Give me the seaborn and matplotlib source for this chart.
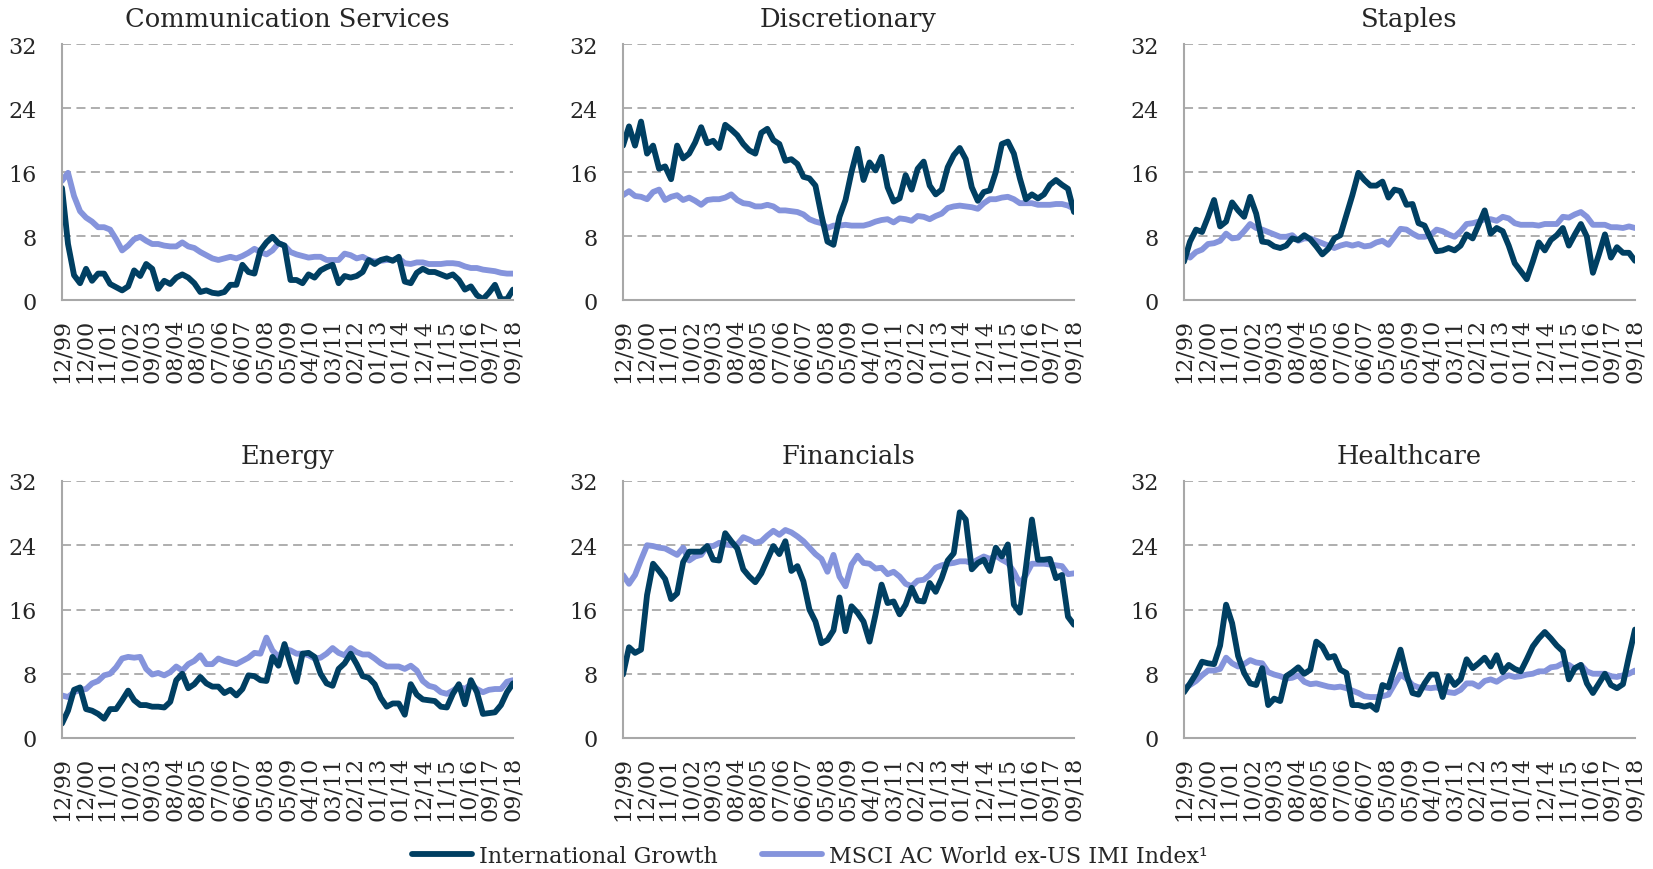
import numpy as np
import pandas as pd
import seaborn as sns
import matplotlib.pyplot as plt
from matplotlib.lines import Line2D

# quarterly readings, 12/99 .. 09/18 (76 points each)
tick_labels = ['12/99', '12/00', '11/01', '10/02', '09/03', '08/04', '08/05', '07/06',
               '06/07', '05/08', '05/09', '04/10', '03/11', '02/12', '01/13', '01/14',
               '12/14', '11/15', '10/16', '09/17', '09/18']
titles = ['Communication Services', 'Discretionary', 'Staples',
          'Energy', 'Financials', 'Healthcare']
ig_name = 'International Growth'
msci_name = 'MSCI AC World ex-US IMI Index\u00b9'

comm_ig = [14.0, 7.0, 3.1, 2.1, 3.9, 2.4, 3.3, 3.3, 2.0, 1.6,
           1.2, 1.7, 3.7, 3.0, 4.5, 3.9, 1.4, 2.4, 2.0, 2.8,
           3.2, 2.8, 2.1, 1.0, 1.2, 0.9, 0.8, 1.0, 1.9, 1.9,
           4.4, 3.5, 3.3, 6.2, 7.2, 7.9, 7.1, 6.8, 2.5, 2.5,
           2.1, 3.2, 2.8, 3.7, 4.1, 4.4, 2.1, 3.0, 2.8, 3.0,
           3.5, 5.0, 4.5, 5.0, 5.2, 4.9, 5.4, 2.3, 2.1, 3.4,
           3.9, 3.5, 3.5, 3.2, 2.9, 3.2, 2.5, 1.3, 1.7, 0.6,
           0.1, 0.9, 1.9, 0.1, 0.1, 1.3]
comm_msci = [14.9, 15.9, 13.0, 11.1, 10.3, 9.8, 9.1, 9.1, 8.8, 7.6,
             6.2, 6.8, 7.6, 7.9, 7.4, 7.0, 7.0, 6.8, 6.7, 6.7,
             7.2, 6.7, 6.5, 6.0, 5.6, 5.2, 5.0, 5.2, 5.4, 5.2,
             5.5, 5.9, 6.4, 6.0, 5.7, 6.2, 7.1, 6.8, 6.0, 5.7,
             5.5, 5.3, 5.4, 5.4, 5.0, 5.0, 5.0, 5.8, 5.6, 5.2,
             5.4, 5.0, 4.8, 4.9, 5.0, 5.0, 5.2, 4.6, 4.5, 4.7,
             4.7, 4.5, 4.5, 4.5, 4.6, 4.6, 4.5, 4.2, 4.0, 4.0,
             3.8, 3.7, 3.6, 3.4, 3.3, 3.3]
disc_ig = [19.3, 21.7, 19.3, 22.3, 18.3, 19.3, 16.4, 16.7, 15.1, 19.3,
           17.7, 18.3, 19.7, 21.6, 19.6, 19.9, 19.0, 21.9, 21.3, 20.6,
           19.5, 18.7, 18.3, 20.9, 21.4, 20.0, 19.5, 17.4, 17.6, 17.0,
           15.4, 15.2, 14.3, 10.6, 7.3, 6.9, 10.4, 12.5, 16.0, 18.9,
           15.0, 17.2, 16.2, 17.9, 14.1, 12.3, 12.7, 15.6, 13.8, 16.4,
           17.3, 14.3, 13.2, 13.8, 16.6, 18.1, 19.0, 17.6, 14.1, 12.4,
           13.5, 13.7, 16.0, 19.5, 19.8, 18.3, 15.2, 12.6, 13.2, 12.7,
           13.2, 14.4, 15.0, 14.4, 13.9, 11.0]
disc_msci = [13.1, 13.6, 13.0, 12.9, 12.6, 13.5, 13.8, 12.5, 12.9, 13.1,
             12.5, 12.8, 12.4, 11.9, 12.5, 12.6, 12.6, 12.8, 13.2, 12.5,
             12.1, 12.0, 11.7, 11.7, 11.9, 11.7, 11.2, 11.2, 11.1, 11.0,
             10.7, 10.1, 9.8, 9.6, 9.0, 9.3, 9.3, 9.4, 9.3, 9.3,
             9.3, 9.5, 9.8, 10.0, 10.1, 9.7, 10.2, 10.1, 9.9, 10.5,
             10.4, 10.1, 10.5, 10.8, 11.5, 11.7, 11.8, 11.7, 11.6, 11.4,
             12.1, 12.6, 12.6, 12.8, 12.9, 12.6, 12.1, 12.1, 12.1, 11.9,
             11.9, 11.9, 12.0, 12.0, 11.8, 11.4]
stap_ig = [4.8, 7.3, 8.8, 8.5, 10.4, 12.5, 9.2, 9.8, 12.2, 11.2,
           10.4, 12.9, 10.8, 7.3, 7.2, 6.7, 6.5, 6.8, 7.7, 7.5,
           8.1, 7.6, 6.7, 5.7, 6.4, 7.7, 8.1, 10.6, 13.1, 15.9,
           15.0, 14.3, 14.3, 14.8, 12.8, 13.8, 13.6, 11.9, 12.0, 9.6,
           9.3, 7.7, 6.1, 6.2, 6.5, 6.2, 6.8, 8.2, 7.7, 9.4,
           11.2, 8.3, 9.0, 8.6, 6.8, 4.6, 3.6, 2.6, 4.8, 7.2,
           6.2, 7.5, 8.1, 9.0, 6.8, 8.2, 9.5, 7.9, 3.4, 5.7,
           8.2, 5.3, 6.6, 5.9, 5.9, 4.9]
stap_msci = [6.0, 5.3, 6.0, 6.3, 7.0, 7.1, 7.4, 8.3, 7.7, 7.8,
             8.6, 9.5, 9.0, 8.8, 8.5, 8.2, 7.9, 7.9, 8.1, 7.4,
             7.7, 7.7, 7.4, 7.1, 6.8, 6.5, 6.8, 7.0, 6.8, 7.0,
             6.7, 6.8, 7.2, 7.4, 6.9, 7.9, 8.9, 8.8, 8.3, 7.9,
             7.9, 8.1, 8.8, 8.6, 8.2, 7.9, 8.6, 9.5, 9.6, 9.8,
             10.1, 10.1, 9.9, 10.4, 10.2, 9.6, 9.4, 9.4, 9.4, 9.3,
             9.5, 9.5, 9.5, 10.4, 10.3, 10.7, 11.0, 10.4, 9.4, 9.4,
             9.4, 9.1, 9.1, 9.0, 9.2, 9.0]
ener_ig = [1.8, 3.4, 6.0, 6.3, 3.6, 3.4, 3.0, 2.4, 3.6, 3.6,
           4.7, 5.9, 4.7, 4.1, 4.1, 3.9, 3.9, 3.8, 4.5, 7.2,
           8.0, 6.2, 6.7, 7.6, 6.8, 6.4, 6.4, 5.6, 6.0, 5.3,
           6.1, 7.8, 7.7, 7.2, 7.1, 10.1, 9.0, 11.7, 9.2, 7.0,
           10.5, 10.6, 10.1, 8.0, 6.8, 6.5, 8.6, 9.3, 10.5, 9.2,
           7.7, 7.5, 6.7, 5.0, 3.9, 4.3, 4.3, 2.9, 6.7, 5.4,
           4.8, 4.7, 4.6, 3.9, 3.8, 5.5, 6.7, 4.2, 7.2, 5.7,
           3.0, 3.1, 3.2, 4.1, 5.7, 6.8]
ener_msci = [5.3, 5.1, 5.7, 6.0, 6.1, 6.8, 7.1, 7.8, 8.0, 8.8,
             9.9, 10.1, 10.0, 10.1, 8.6, 7.9, 8.1, 7.8, 8.2, 8.9,
             8.4, 9.2, 9.6, 10.3, 9.2, 9.2, 9.9, 9.6, 9.4, 9.2,
             9.6, 10.0, 10.6, 10.5, 12.5, 10.9, 10.1, 11.1, 10.9, 10.5,
             10.5, 10.3, 9.9, 10.0, 10.5, 11.2, 10.6, 10.3, 11.2, 10.7,
             10.4, 10.4, 9.9, 9.3, 8.9, 8.9, 8.9, 8.6, 9.0, 8.4,
             7.1, 6.5, 6.3, 5.7, 5.5, 5.9, 6.4, 6.1, 6.7, 6.1,
             5.7, 6.0, 6.1, 6.1, 7.0, 7.2]
fin_ig = [7.9, 11.3, 10.6, 11.0, 17.8, 21.7, 20.8, 19.8, 17.3, 18.0,
          21.9, 23.2, 23.2, 23.2, 23.9, 22.2, 22.1, 25.5, 24.5, 23.6,
          21.0, 20.1, 19.4, 20.5, 22.2, 23.9, 22.9, 24.5, 20.8, 21.4,
          19.5, 16.0, 14.5, 11.8, 12.2, 13.4, 17.5, 13.3, 16.4, 15.6,
          14.5, 12.0, 15.4, 19.1, 16.8, 17.0, 15.4, 16.6, 18.7, 17.1,
          17.0, 19.3, 18.2, 19.9, 22.1, 23.0, 28.1, 27.2, 21.0, 21.8,
          22.2, 20.8, 23.7, 22.6, 24.1, 16.6, 15.6, 21.2, 27.2, 22.2,
          22.2, 22.3, 19.9, 20.3, 15.1, 14.1]
fin_msci = [20.3, 19.2, 20.3, 22.2, 24.0, 23.9, 23.7, 23.6, 23.2, 22.8,
            23.7, 22.1, 22.6, 22.8, 23.9, 23.9, 24.3, 24.1, 24.0, 24.1,
            25.0, 24.7, 24.3, 24.5, 25.2, 25.8, 25.3, 25.9, 25.6, 25.1,
            24.5, 23.7, 22.9, 22.3, 20.7, 22.8, 20.1, 18.9, 21.6, 22.7,
            21.8, 21.7, 21.1, 21.2, 20.4, 20.7, 20.1, 19.2, 18.9, 19.6,
            19.7, 20.3, 21.2, 21.5, 21.7, 21.8, 22.0, 22.0, 21.8, 22.2,
            22.6, 22.3, 22.7, 22.2, 21.8, 20.7, 19.2, 20.3, 21.7, 21.7,
            21.7, 21.6, 21.5, 21.4, 20.4, 20.5]
hc_ig = [5.7, 6.8, 8.0, 9.5, 9.3, 9.2, 11.5, 16.6, 14.3, 10.2,
         8.1, 6.8, 6.6, 8.7, 4.1, 4.9, 4.6, 7.7, 8.2, 8.8,
         8.0, 8.5, 12.0, 11.4, 10.0, 10.2, 8.5, 8.1, 4.1, 4.1,
         3.9, 4.1, 3.5, 6.6, 6.3, 8.7, 11.0, 7.9, 5.6, 5.4,
         6.8, 7.9, 7.9, 5.1, 7.7, 6.6, 7.3, 9.8, 8.7, 9.3,
         10.0, 8.9, 10.3, 8.2, 9.1, 8.6, 8.3, 9.8, 11.4, 12.4,
         13.2, 12.4, 11.5, 10.8, 7.3, 8.7, 9.1, 6.8, 5.6, 6.8,
         8.0, 6.6, 6.2, 6.7, 10.2, 13.5]
hc_msci = [6.2, 6.6, 7.1, 7.8, 8.4, 8.4, 8.6, 10.0, 9.3, 8.9,
           9.2, 9.7, 9.4, 9.3, 8.2, 7.9, 7.7, 7.4, 7.5, 7.8,
           7.0, 6.7, 6.8, 6.6, 6.4, 6.3, 6.4, 6.2, 5.9, 5.6,
           5.2, 5.1, 5.1, 5.2, 5.4, 6.7, 7.9, 7.4, 6.6, 6.3,
           6.3, 6.2, 6.3, 6.0, 5.7, 5.6, 6.0, 6.8, 6.8, 6.4,
           7.1, 7.3, 7.0, 7.5, 7.8, 7.6, 7.7, 7.9, 8.0, 8.3,
           8.3, 8.8, 8.9, 9.3, 9.1, 8.6, 9.1, 8.3, 8.0, 8.0,
           8.0, 7.7, 7.6, 7.8, 8.0, 8.4]

panels = [(comm_ig, comm_msci), (disc_ig, disc_msci), (stap_ig, stap_msci),
          (ener_ig, ener_msci), (fin_ig, fin_msci), (hc_ig, hc_msci)]

sns.set_style("white")
plt.rcParams['font.family'] = ['DejaVu Serif']

dark = '#003f62'
light = '#8594dc'
gray = '#a8a8a8'

W, H = 1653, 870
fig = plt.figure(figsize=(W / 100, H / 100), dpi=100)
lefts = [62, 623, 1184]
rows = [(45, 301), (482, 739)]

for k, (title, (ig, msci)) in enumerate(zip(titles, panels)):
    r, c = divmod(k, 3)
    top, bot = rows[r]
    ax = fig.add_axes([lefts[c] / W, 1 - bot / H, 451 / W, (bot - top) / H])
    df = pd.DataFrame({'q': np.arange(len(ig)), ig_name: ig, msci_name: msci})
    long = df.melt(id_vars='q', var_name='series', value_name='pe')
    sns.lineplot(data=long, x='q', y='pe', hue='series',
                 hue_order=[msci_name, ig_name],
                 palette={ig_name: dark, msci_name: light},
                 linewidth=4.2, legend=False, ax=ax)
    ax.set_xlim(0, len(ig) - 1)
    ax.set_ylim(0, 32)
    ax.set_yticks([0, 8, 16, 24, 32])
    ax.set_xticks(np.linspace(0, len(ig) - 1, len(tick_labels)))
    ax.set_xticklabels(tick_labels, rotation=90)
    ax.set_xlabel('')
    ax.set_ylabel('')
    ax.yaxis.grid(True, linestyle=(0, (5, 3)), color=gray, linewidth=1.3)
    ax.xaxis.grid(False)
    ax.set_axisbelow(True)
    for side in ['top', 'right']:
        ax.spines[side].set_visible(False)
    for side in ['left', 'bottom']:
        ax.spines[side].set_color(gray)
        ax.spines[side].set_linewidth(1.5)
    ax.tick_params(axis='y', length=0, pad=18, labelsize=16)
    ax.tick_params(axis='x', length=5, width=1.3, color=gray, pad=8, labelsize=16)
    ax.set_title(title, fontsize=18.5, pad=13)

handles = [Line2D([], [], color=dark, lw=4.2), Line2D([], [], color=light, lw=4.2)]
fig.legend(handles, [ig_name, msci_name], loc='lower center', bbox_to_anchor=(0.49, 0.0),
           borderaxespad=0.0, borderpad=0.1, ncol=2, frameon=False, fontsize=16,
           handlelength=2.7, columnspacing=2.0, handletextpad=0.3)

fig.savefig('out.png', dpi=100)
